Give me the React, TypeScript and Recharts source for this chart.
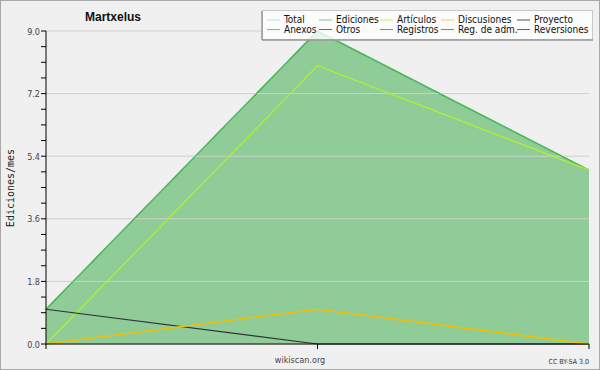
import { ComposedChart, Area, Line, XAxis, YAxis, ReferenceLine } from 'recharts';

const months = ['2019-01', '2019-02', '2019-03'];
const total = [1, 9, 5];
const ediciones = [1, 9, 5];
const articulos = [0, 8, 5];
const discusiones = [0, 1, 0];
const proyecto = [1, 0, 0];

const yTicks = [0, 0.45, 0.9, 1.35, 1.8, 2.25, 2.7, 3.15, 3.6, 4.05, 4.5, 4.95, 5.4, 5.85, 6.3, 6.75, 7.2, 7.65, 8.1, 8.55, 9];
const yLabels = [0, 1.8, 3.6, 5.4, 7.2, 9];

const legendRows = [
  [
    { name: 'Total', color: '#a8e4dc' },
    { name: 'Ediciones', color: '#7cc886' },
    { name: 'Artículos', color: '#c4f060' },
    { name: 'Discusiones', color: '#f4cc50' },
    { name: 'Proyecto', color: '#555555' },
  ],
  [
    { name: 'Anexos', color: '#f08850' },
    { name: 'Otros', color: '#8048e0' },
    { name: 'Registros', color: '#7080f0' },
    { name: 'Reg. de adm.', color: '#c050e0' },
    { name: 'Reversiones', color: '#e03030' },
  ],
];
const legendCols = [267, 319, 380, 441, 517];

const data = months.map((m, i) => ({
  month: m,
  total: total[i],
  ediciones: ediciones[i],
  articulos: articulos[i],
  discusiones: discusiones[i],
  proyecto: proyecto[i],
}));

const YTick = (props: any) => {
  const { x, y, payload } = props;
  if (!yLabels.some((v) => Math.abs(v - payload.value) < 1e-6)) return <g />;
  return (
    <text x={x} y={y} dy={3.5} textAnchor="end" fontSize={9} fill="#444" fontFamily="'DejaVu Sans Condensed', 'DejaVu Sans', sans-serif">
      {payload.value.toFixed(1)}
    </text>
  );
};

export default function App() {
  return (
    <div style={{ position: 'absolute', left: 0, top: 0, width: 600, height: 370, background: '#f0f0f0' }}>
      <ComposedChart width={600} height={370} data={data} margin={{ top: 31, right: 11, left: 0, bottom: 0 }} style={{ background: '#f0f0f0' }}>
        {yLabels.map((v) => (
          <ReferenceLine key={v} y={v} stroke="#cfcfcf" strokeWidth={1} ifOverflow="visible" />
        ))}
        <XAxis
          dataKey="month"
          scale="point"
          padding={{ left: 0, right: 0 }}
          height={26}
          tickSize={5}
          axisLine={{ stroke: '#000' }}
          tickLine={{ stroke: '#000' }}
          tick={() => <g />}
        />
        <YAxis
          width={46}
          domain={[0, 9]}
          ticks={yTicks}
          interval={0}
          tickSize={5}
          tickMargin={1}
          axisLine={{ stroke: '#000' }}
          tickLine={{ stroke: '#000' }}
          tick={YTick}
        />
        <Area type="linear" dataKey="ediciones" stroke="#3cb043" strokeWidth={1.5} fill="#90cc98" fillOpacity={1} isAnimationActive={false} dot={false} />
        <Line type="linear" dataKey="total" stroke="#a8e4dc" strokeWidth={1} dot={false} isAnimationActive={false} />
        <Line type="linear" dataKey="ediciones" stroke="#3cb043" strokeWidth={1} dot={false} isAnimationActive={false} />
        <Line type="linear" dataKey="articulos" stroke="#b0f030" strokeWidth={1.2} dot={false} isAnimationActive={false} />
        <Line type="linear" dataKey="proyecto" stroke="#333333" strokeWidth={1.2} dot={false} isAnimationActive={false} />
        <Line type="linear" dataKey="discusiones" stroke="#f0c000" strokeWidth={1.5} dot={false} isAnimationActive={false} />
      </ComposedChart>
      <svg width={600} height={370} style={{ position: 'absolute', left: 0, top: 0, pointerEvents: 'none' }}>
        <rect x={0.5} y={0.5} width={599} height={369} fill="none" stroke="#a8a8a8" />
        <text x={85} y={21} fontSize={12} fontWeight="bold" fill="#111" fontFamily="'Liberation Sans', Arial, sans-serif">Martxelus</text>
        <text transform="translate(14,188) rotate(-90)" textAnchor="middle" fontSize={10} fill="#222" fontFamily="'DejaVu Sans Mono', monospace">Ediciones/mes</text>
        <text x={300} y={363} textAnchor="middle" fontSize={9} fill="#444" fontFamily="'DejaVu Sans Condensed', 'DejaVu Sans', sans-serif">wikiscan.org</text>
        <text x={589} y={364} textAnchor="end" fontSize={7} fill="#333" fontFamily="'DejaVu Sans Condensed', 'DejaVu Sans', sans-serif">CC BY-SA 3.0</text>
        <rect x={262.5} y={10.5} width={330} height={29} fill="#ffffff" fillOpacity={0.8} stroke="#c8c8c8" />
        <line x1={262} y1={11} x2={262} y2={40} stroke="#999" strokeWidth={1.5} />
        <line x1={262} y1={40} x2={593} y2={40} stroke="#999" strokeWidth={1.5} />
        {legendRows.map((row, r) =>
          row.map((item, c) => (
            <g key={item.name}>
              <line x1={legendCols[c]} x2={legendCols[c] + 13} y1={20 + r * 9.5} y2={20 + r * 9.5} stroke={item.color} strokeWidth={1} />
              <text x={legendCols[c] + 17} y={23 + r * 9.5} fontSize={10} fill="#111" fontFamily="'DejaVu Sans Condensed', 'DejaVu Sans', sans-serif">
                {item.name}
              </text>
            </g>
          ))
        )}
      </svg>
    </div>
  );
}
